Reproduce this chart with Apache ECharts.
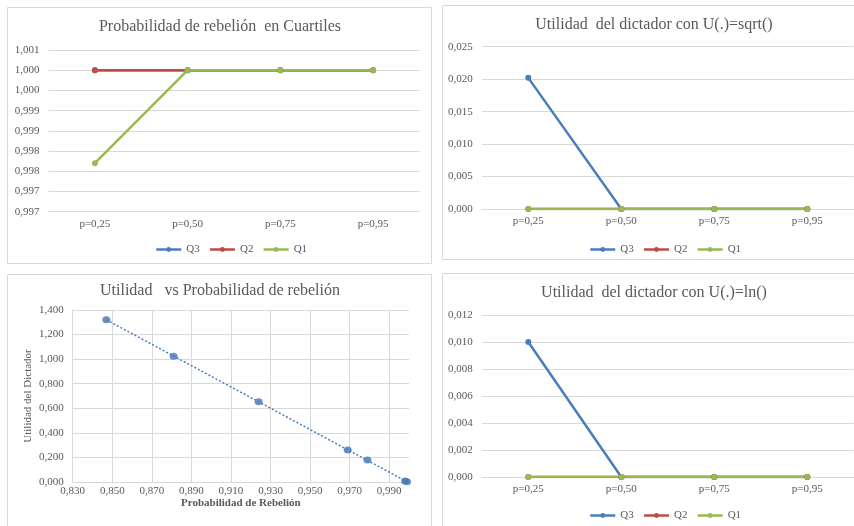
<!DOCTYPE html>
<html>
<head>
<meta charset="utf-8">
<script src="https://cdn.jsdelivr.net/npm/echarts@6/dist/echarts.min.js"></script>
<style>
html,body{margin:0;padding:0;background:#fff;}
#c{width:854px;height:526px;}
</style>
</head>
<body>
<div id="c"></div>
<script>
// ---- data ----
const categories = ['p=0,25', 'p=0,50', 'p=0,75', 'p=0,95'];
const seriesNames = ['Q3', 'Q2', 'Q1'];

// Panel 1: Probabilidad de rebelión en Cuartiles
const probQ3 = [1.0, 1.0, 1.0, 1.0];
const probQ2 = [1.0, 1.0, 1.0, 1.0];
const probQ1 = [0.9977, 1.0, 1.0, 1.0];

// Panel 2: Utilidad del dictador con U(.)=sqrt()
const sqrtQ3 = [0.0202, 0.0, 0.0, 0.0];
const sqrtQ2 = [0.0, 0.0, 0.0, 0.0];
const sqrtQ1 = [0.0, 0.0, 0.0, 0.0];

// Panel 4: Utilidad del dictador con U(.)=ln()
const lnQ3 = [0.0100, 0.0, 0.0, 0.0];
const lnQ2 = [0.0, 0.0, 0.0, 0.0];
const lnQ1 = [0.0, 0.0, 0.0, 0.0];

// Panel 3: Utilidad vs Probabilidad de rebelión
const rebelProb = [0.847, 0.881, 0.924, 0.969, 0.979, 0.998, 0.999];
const rebelUtil = [1.321, 1.023, 0.654, 0.261, 0.180, 0.008, 0.002];

// ---- helpers ----
const colors = {Q3: '#4a7ebb', Q2: '#be4b48', Q1: '#98b954'};
const txt = '#595959';
const grid = '#d9d9d9';
const serif = '"Liberation Serif", "DejaVu Serif", serif';

function comma(v, d) { return v.toFixed(d).replace('.', ','); }
// Excel-like half-up rounding to 3 decimals
function fmt3(v) {
  const n = Math.round(v * 10000);
  const r = Math.round(n / 10) / 1000;
  return r.toFixed(3).replace('.', ',');
}

// linear trendline (least squares) from the scatter data
function trend(xs, ys) {
  const n = xs.length;
  let sx = 0, sy = 0, sxx = 0, sxy = 0;
  for (let i = 0; i < n; i++) { sx += xs[i]; sy += ys[i]; sxx += xs[i] * xs[i]; sxy += xs[i] * ys[i]; }
  const b = (n * sxy - sx * sy) / (n * sxx - sx * sx);
  const a = (sy - b * sx) / n;
  const x0 = Math.min.apply(null, xs), x1 = Math.max.apply(null, xs);
  return [[x0, a + b * x0], [x1, a + b * x1]];
}

function catX(gi) {
  return {
    type: 'category', gridIndex: gi, data: categories, boundaryGap: true,
    axisLine: {lineStyle: {color: grid}}, axisTick: {show: false},
    axisLabel: {color: txt, fontFamily: serif, fontSize: 11, margin: 7},
    splitLine: {show: false}
  };
}
function valY(gi, min, max, interval, formatter) {
  return {
    type: 'value', gridIndex: gi, min: min, max: max, interval: interval,
    axisLine: {show: false}, axisTick: {show: false},
    axisLabel: {color: txt, fontFamily: serif, fontSize: 11, margin: 9, formatter: formatter},
    splitLine: {lineStyle: {color: grid, width: 1}}
  };
}
function lineSeries(name, data, xi, yi) {
  return {
    name: name, type: 'line', xAxisIndex: xi, yAxisIndex: yi, data: data,
    symbol: 'circle', symbolSize: 6, animation: false,
    lineStyle: {color: colors[name], width: 2.5},
    itemStyle: {color: colors[name]}
  };
}
function legendAt(left, top) {
  return {
    data: seriesNames, left: left, top: top, itemWidth: 25, itemHeight: 6, itemGap: 9,
    textStyle: {color: txt, fontFamily: serif, fontSize: 11}, padding: 0,
    lineStyle: {width: 2.5},
    selectedMode: false
  };
}
function titleAt(text, cx, top) {
  return {
    text: text, left: cx, top: top, textAlign: 'center', padding: 0,
    textStyle: {color: txt, fontFamily: serif, fontSize: 16, fontWeight: 'normal'}
  };
}

const chart = echarts.init(document.getElementById('c'), null, {renderer: 'canvas'});

const option = {
  backgroundColor: '#ffffff',
  animation: false,
  graphic: [
    {type: 'rect', shape: {x: 7.5, y: 7.5, width: 424, height: 256}, style: {fill: 'none', stroke: '#d9d9d9', lineWidth: 1}},
    {type: 'rect', shape: {x: 442.5, y: 5.5, width: 420, height: 254}, style: {fill: 'none', stroke: '#d9d9d9', lineWidth: 1}},
    {type: 'rect', shape: {x: 7.5, y: 274.5, width: 424, height: 260}, style: {fill: 'none', stroke: '#d9d9d9', lineWidth: 1}},
    {type: 'rect', shape: {x: 442.5, y: 273.5, width: 420, height: 260}, style: {fill: 'none', stroke: '#d9d9d9', lineWidth: 1}}
  ],
  title: [
    titleAt('Probabilidad de rebelión  en Cuartiles', 220, 19),
    titleAt('Utilidad  del dictador con U(.)=sqrt()', 654, 17),
    titleAt('Utilidad   vs Probabilidad de rebelión', 220, 283),
    titleAt('Utilidad  del dictador con U(.)=ln()', 654, 285)
  ],
  legend: [
    legendAt(155, 244),
    legendAt(589, 244),
    legendAt(589, 510)
  ],
  grid: [
    {left: 48.5, width: 371, top: 50, height: 161.7},
    {left: 481.8, width: 372, top: 46.7, height: 162.3},
    {left: 72.7, width: 336.3, top: 310, height: 172},
    {left: 481.8, width: 372, top: 315, height: 162}
  ],
  xAxis: [
    catX(0),
    catX(1),
    {
      type: 'value', gridIndex: 2, min: 0.83, max: 1.0, interval: 0.02,
      axisLine: {show: true, lineStyle: {color: grid}}, axisTick: {show: false},
      axisLabel: {color: txt, fontFamily: serif, fontSize: 11, margin: 4,
        formatter: function (v) { return v > 0.995 ? '' : comma(v, 3); }},
      splitLine: {show: true, showMaxLine: false, lineStyle: {color: grid}},
      name: 'Probabilidad de Rebelión', nameLocation: 'middle', nameGap: 15,
      nameTextStyle: {color: txt, fontFamily: serif, fontSize: 11, fontWeight: 'bold'}
    },
    catX(3)
  ],
  yAxis: [
    valY(0, 0.9965, 1.0005, 0.0005, fmt3),
    valY(1, 0, 0.025, 0.005, function (v) { return comma(v, 3); }),
    {
      type: 'value', gridIndex: 2, min: 0, max: 1.4, interval: 0.2,
      axisLine: {show: true, lineStyle: {color: grid}}, axisTick: {show: false},
      axisLabel: {color: txt, fontFamily: serif, fontSize: 11, margin: 9,
        formatter: function (v) { return comma(v, 3); }},
      splitLine: {lineStyle: {color: grid}},
      name: 'Utilidad del Dictador', nameLocation: 'middle', nameGap: 39,
      nameTextStyle: {color: txt, fontFamily: serif, fontSize: 11}
    },
    valY(3, 0, 0.012, 0.002, function (v) { return comma(v, 3); })
  ],
  series: [
    lineSeries('Q3', probQ3, 0, 0),
    lineSeries('Q2', probQ2, 0, 0),
    lineSeries('Q1', probQ1, 0, 0),
    lineSeries('Q3', sqrtQ3, 1, 1),
    lineSeries('Q2', sqrtQ2, 1, 1),
    lineSeries('Q1', sqrtQ1, 1, 1),
    lineSeries('Q3', lnQ3, 3, 3),
    lineSeries('Q2', lnQ2, 3, 3),
    lineSeries('Q1', lnQ1, 3, 3),
    {
      name: 'Tendencia', type: 'line', xAxisIndex: 2, yAxisIndex: 2,
      data: trend(rebelProb, rebelUtil), symbol: 'none',
      lineStyle: {color: '#4a7ebb', width: 1.5, type: [2, 2]}, z: 1
    },
    {
      name: 'Utilidad', type: 'scatter', xAxisIndex: 2, yAxisIndex: 2,
      data: rebelProb.map(function (x, i) { return [x, rebelUtil[i]]; }),
      symbol: 'circle', symbolSize: [8, 7], itemStyle: {color: '#4675b5'}, z: 3
    }
  ]
};
chart.setOption(option);
</script>
</body>
</html>
